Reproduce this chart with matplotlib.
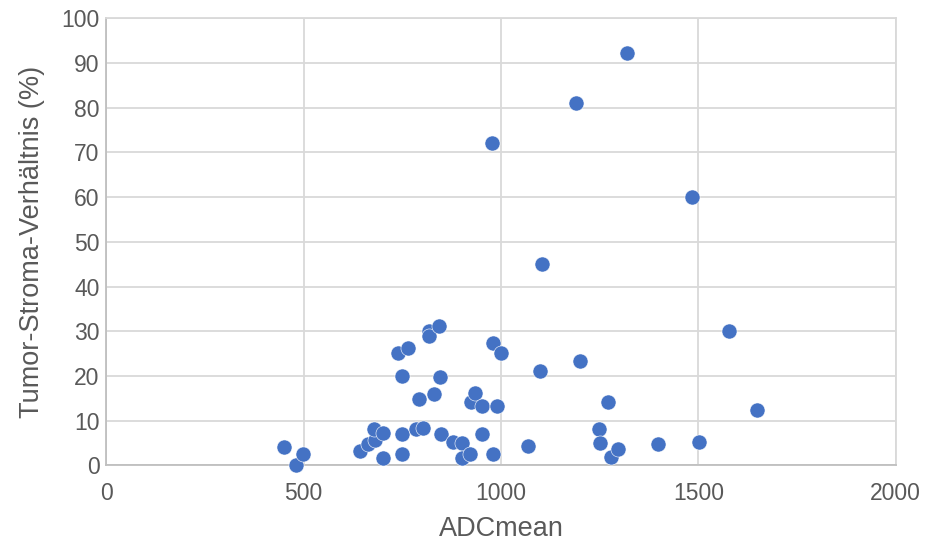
import matplotlib
matplotlib.use("Agg")
import matplotlib.pyplot as plt
import numpy as np

plt.rcParams["font.family"] = ["Liberation Sans", "DejaVu Sans"]

# ADCmean values
adc_mean = [451, 480, 499, 643, 664, 681, 679, 701, 702, 740,
            748, 748, 748, 764, 785, 791, 803, 818, 818, 830,
            844, 845, 848, 879, 900, 900, 921, 923, 934, 951,
            951, 977, 979, 979, 989, 1000, 1068, 1099, 1104, 1189,
            1200, 1248, 1251, 1270, 1279, 1297, 1320, 1399, 1483, 1503,
            1579, 1650]
# Tumor-Stroma-Verhältnis (%)
tsr = [4.1, 0.0, 2.6, 3.2, 4.9, 5.7, 8.1, 1.7, 7.3, 25.2,
       20.1, 7.0, 2.5, 26.3, 8.1, 14.9, 8.3, 30.1, 28.9, 15.9,
       31.2, 19.7, 7.1, 5.3, 5.1, 1.7, 2.5, 14.3, 16.2, 13.2,
       7.1, 72.1, 27.3, 2.5, 13.2, 25.2, 4.4, 21.2, 45.1, 81.1,
       23.4, 8.2, 5.1, 14.3, 1.8, 3.7, 92.1, 4.8, 60.1, 5.2,
       30.1, 12.3]

x_ticks = [0, 500, 1000, 1500, 2000]
y_ticks = list(range(0, 101, 10))

grid_col = "#D9D9D9"
text_col = "#595959"

fig = plt.figure(figsize=(9.27, 5.47), dpi=100)
ax = fig.add_axes([0.1148, 0.149, 0.8513, 0.818])

ax.scatter(adc_mean, tsr, s=118, color="#4472C4", edgecolors="white",
           linewidths=0.4, zorder=3, clip_on=False)

ax.set_xlim(0, 2000)
ax.set_ylim(0, 100)
ax.set_xticks(x_ticks)
ax.set_yticks(y_ticks)
ax.grid(color=grid_col, linewidth=1.3, zorder=0)
ax.set_axisbelow(True)

for side in ["top", "right"]:
    ax.spines[side].set_color(grid_col)
    ax.spines[side].set_linewidth(1.3)
for side in ["left", "bottom"]:
    ax.spines[side].set_color("#BFBFBF")
    ax.spines[side].set_linewidth(1.3)

ax.tick_params(length=0, labelsize=16.5, colors=text_col)
ax.tick_params(axis="y", pad=5)
ax.tick_params(axis="x", pad=12)
ax.set_xlabel("ADCmean", fontsize=19.5, color=text_col, labelpad=8)
ax.set_ylabel("Tumor-Stroma-Verhältnis (%)", fontsize=19.5, color=text_col,
              labelpad=12)

fig.savefig("out.png", dpi=100)
